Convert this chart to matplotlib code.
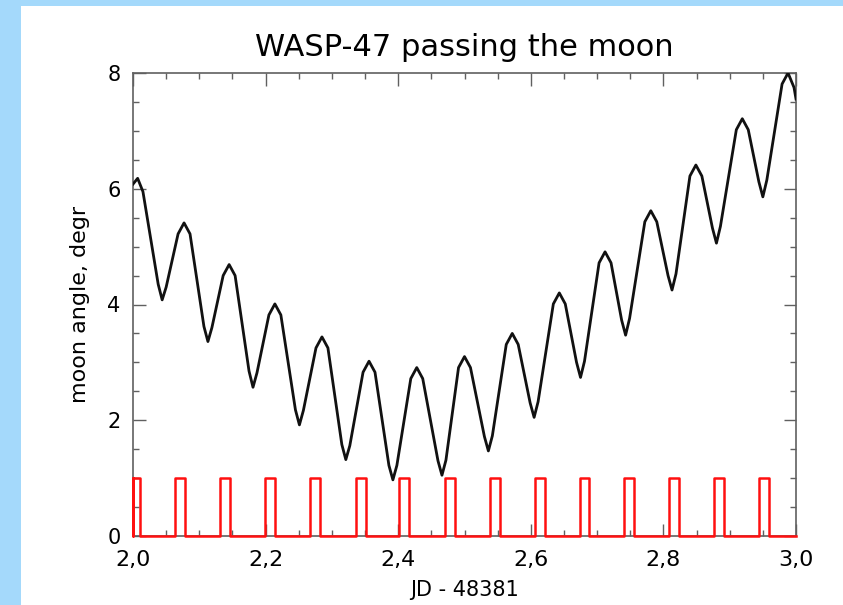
import matplotlib
matplotlib.use("Agg")
import matplotlib.pyplot as plt
from matplotlib.patches import Rectangle
from matplotlib.ticker import MultipleLocator, FixedLocator, FixedFormatter

# ---- data ----
moon_x = [2.000, 2.007, 2.015, 2.038, 2.044, 2.050, 2.068, 2.077, 2.086,
          2.107, 2.113, 2.119, 2.136, 2.145, 2.154, 2.175, 2.181, 2.187,
          2.205, 2.214, 2.223, 2.245, 2.251, 2.257, 2.276, 2.285, 2.294,
          2.315, 2.321, 2.327, 2.347, 2.356, 2.365, 2.386, 2.392, 2.398,
          2.419, 2.428, 2.437, 2.460, 2.466, 2.472, 2.491, 2.500, 2.509,
          2.530, 2.536, 2.542, 2.563, 2.572, 2.581, 2.599, 2.605, 2.611,
          2.634, 2.643, 2.652, 2.669, 2.675, 2.681, 2.703, 2.712, 2.721,
          2.737, 2.743, 2.749, 2.772, 2.781, 2.790, 2.807, 2.813, 2.819,
          2.840, 2.849, 2.858, 2.874, 2.880, 2.886, 2.910, 2.919, 2.928,
          2.944, 2.950, 2.956, 2.979, 2.988, 2.997, 3.000]
moon_y = [6.08, 6.18, 5.95, 4.35, 4.08, 4.30, 5.22, 5.41, 5.22,
          3.62, 3.36, 3.60, 4.50, 4.69, 4.50, 2.85, 2.57, 2.82,
          3.82, 4.01, 3.82, 2.18, 1.92, 2.17, 3.25, 3.44, 3.25,
          1.58, 1.32, 1.56, 2.83, 3.02, 2.83, 1.22, 0.97, 1.22,
          2.72, 2.91, 2.72, 1.30, 1.05, 1.31, 2.91, 3.10, 2.91,
          1.72, 1.47, 1.73, 3.31, 3.50, 3.31, 2.30, 2.05, 2.32,
          4.01, 4.20, 4.01, 3.00, 2.74, 3.02, 4.72, 4.91, 4.72,
          3.73, 3.47, 3.76, 5.43, 5.62, 5.43, 4.50, 4.25, 4.53,
          6.22, 6.41, 6.22, 5.32, 5.06, 5.35, 7.02, 7.21, 7.02,
          6.12, 5.86, 6.15, 7.81, 8.00, 7.75, 7.55]

# visibility windows (flag = 1 inside, 0 outside)
win_start = [2.0000, 2.0633, 2.1312, 2.1991, 2.2670, 2.3356, 2.4005, 2.4706,
             2.5385, 2.6063, 2.6735, 2.7406, 2.8084, 2.8763, 2.9442]
win_end = [2.0106, 2.0784, 2.1463, 2.2142, 2.2821, 2.3507, 2.4170, 2.4857,
           2.5535, 2.6214, 2.6885, 2.7564, 2.8235, 2.8914, 2.9600]
flag_on = 1.0
flag_off = 0.0

xticks = [2.0, 2.2, 2.4, 2.6, 2.8, 3.0]
xtick_labels = ["2,0", "2,2", "2,4", "2,6", "2,8", "3,0"]
yticks = [0, 2, 4, 6, 8]
ytick_labels = ["0", "2", "4", "6", "8"]

title = "WASP-47 passing the moon"
xlabel = "JD - 48381"
ylabel = "moon angle, degr"

# ---- build step curve from windows ----
sx = []
sy = []
for s, e in zip(win_start, win_end):
    sx += [s, s, e, e]
    sy += [flag_off, flag_on, flag_on, flag_off]
sx = [2.0] + sx + [3.0]
sy = [flag_on] + sy + [flag_off]

# ---- figure ----
fig = plt.figure(figsize=(8.43, 6.05), dpi=100)
fig.patch.set_facecolor("white")
blue = "#a4d9fb"
fig.patches.append(Rectangle((0, 0), 21 / 843, 1, transform=fig.transFigure,
                             facecolor=blue, edgecolor="none", zorder=0))
fig.patches.append(Rectangle((0, 1 - 6 / 605), 1, 6 / 605, transform=fig.transFigure,
                             facecolor=blue, edgecolor="none", zorder=0))

ax = fig.add_axes([133 / 843, 1 - 536 / 605, (796 - 133) / 843, (536 - 73) / 605])
ax.plot(moon_x, moon_y, color="#111111", lw=2.0, zorder=3,
        solid_joinstyle="round")
ax.plot(sx, sy, color="#ff1010", lw=1.8, zorder=4, clip_on=False)

ax.set_xlim(2.0, 3.0)
ax.set_ylim(0, 8)
ax.xaxis.set_major_locator(FixedLocator(xticks))
ax.xaxis.set_major_formatter(FixedFormatter(xtick_labels))
ax.xaxis.set_minor_locator(MultipleLocator(0.05))
ax.yaxis.set_major_locator(FixedLocator(yticks))
ax.yaxis.set_major_formatter(FixedFormatter(ytick_labels))
ax.yaxis.set_minor_locator(MultipleLocator(0.5))

spine_c = "#606060"
for sp in ax.spines.values():
    sp.set_color(spine_c)
    sp.set_linewidth(1.2)
ax.tick_params(which="both", direction="in", top=True, right=True, color=spine_c, width=1.0)
ax.tick_params(which="major", length=9)
ax.tick_params(which="minor", length=4.5)
ax.tick_params(axis="x", which="major", labelsize=16, pad=10)
ax.tick_params(axis="y", which="major", labelsize=15, pad=9)

ax.set_title(title, fontsize=22, pad=12)
ax.set_xlabel(xlabel, fontsize=15, labelpad=7)
ax.set_ylabel(ylabel, fontsize=16, labelpad=12)

fig.savefig("out.png", dpi=100)
